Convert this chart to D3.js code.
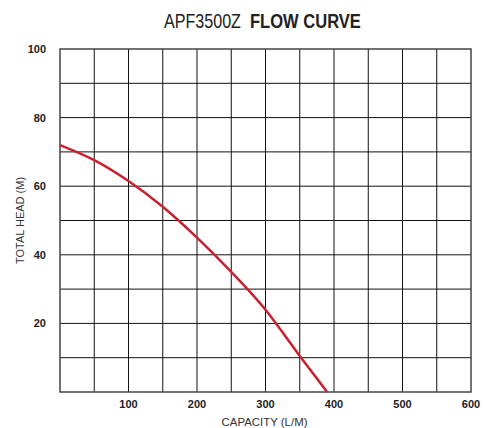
<!DOCTYPE html>
<html><head><meta charset="utf-8">
<script src="https://cdn.jsdelivr.net/npm/d3@7"></script>
<style>body{margin:0;background:#fff}</style>
</head><body>
<svg id="c" width="485" height="428"></svg>
<script>
const capacity = [0, 50, 100, 150, 200, 250, 300, 350, 390];
const head =     [72, 67.6, 61.5, 54, 45, 35, 24, 10.5, 0];
const xTicks = [100, 200, 300, 400, 500, 600];
const yTicks = [20, 40, 60, 80, 100];

const svg = d3.select('#c');
const m = {l:60, r:471, t:49, b:392};
const x = d3.scaleLinear().domain([0,600]).range([m.l, m.r]);
const y = d3.scaleLinear().domain([0,100]).range([m.b, m.t]);

const g = svg.append('g');
g.selectAll('.vx').data(d3.range(50, 600, 50)).join('line')
  .attr('x1', d=>x(d)).attr('x2', d=>x(d)).attr('y1', m.t).attr('y2', m.b)
  .attr('stroke', '#111').attr('stroke-width', 1);
g.selectAll('.hy').data(d3.range(10, 100, 10)).join('line')
  .attr('y1', d=>y(d)).attr('y2', d=>y(d)).attr('x1', m.l).attr('x2', m.r)
  .attr('stroke', '#111').attr('stroke-width', 1);
g.append('rect').attr('x', m.l).attr('y', m.t).attr('width', m.r-m.l).attr('height', m.b-m.t)
  .attr('fill','none').attr('stroke','#444').attr('stroke-width',1.5);

const line = d3.line().x((d,i)=>x(capacity[i])).y(d=>y(d)).curve(d3.curveMonotoneX);
svg.append('path').datum(head).attr('d', line).attr('fill','none')
  .attr('stroke','#c8202f').attr('stroke-width',2.5);

const font = "'Liberation Sans Narrow','Liberation Sans',Arial,sans-serif";
svg.selectAll('.xt').data(xTicks).join('text')
  .attr('x', d=>x(d)).attr('y', 408).attr('text-anchor','middle')
  .attr('font-family', font).attr('font-weight','bold').attr('font-size', 11).attr('fill','#222')
  .text(d=>d);
svg.selectAll('.yt').data(yTicks).join('text')
  .attr('x', 46).attr('y', d=>y(d)+4).attr('text-anchor','end')
  .attr('font-family', font).attr('font-weight','bold').attr('font-size', 11).attr('fill','#222')
  .text(d=>d);

function scaledText(px, py, w, size, weight, str, fill){
  const gg = svg.append('g');
  const tx = gg.append('text').attr('font-family', font).attr('font-size', size)
    .attr('font-weight', weight).attr('fill', fill).text(str);
  const nat = tx.node().getComputedTextLength();
  gg.attr('transform', `translate(${px},${py}) scale(${w/nat},1)`);
  return gg;
}
scaledText(221.5, 426, 86, 11, 'normal', 'CAPACITY (L/M)', '#333');
svg.append('text').attr('transform', `translate(24,${(m.t+m.b)/2}) rotate(-90)`).attr('text-anchor','middle')
  .attr('font-family', font).attr('font-size', 11).attr('fill','#333').text('TOTAL HEAD (M)');

scaledText(164, 28, 77, 20, 300, 'APF3500Z', '#222');
scaledText(250, 28, 111, 20, 'bold', 'FLOW CURVE', '#222');
</script>
</body></html>
